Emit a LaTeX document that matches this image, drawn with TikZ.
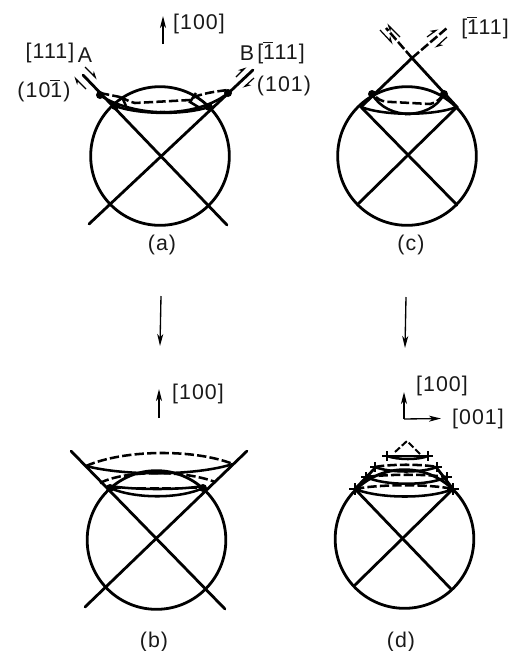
\documentclass[tikz,border=0pt]{standalone}
\usepackage{fontspec}
\setmainfont{Liberation Sans}[LetterSpace=5]
\usetikzlibrary{arrows.meta}
\newcommand{\obar}[1]{\leavevmode\rlap{\raisebox{12.6pt}{\rule{7.5pt}{0.8pt}}}#1}
\tikzset{
  heavy/.style={line width=2.1pt,line cap=round},
  arcline/.style={line width=1.9pt},
  dashline/.style={line width=1.9pt,dash pattern=on 7pt off 2.4pt},
  thin arrow/.style={line width=1pt,-{Stealth[length=9pt,width=4.5pt,inset=2.5pt]}},
  harp a/.style={line width=0.9pt,-{Stealth[harpoon,length=5pt,width=5pt]}},
  lab/.style={inner sep=0pt,font=\fontsize{16}{18}\selectfont,text=black!90},
  tick/.style={line width=1pt}
}
\begin{document}
\begin{tikzpicture}[x=0.75pt,y=-0.75pt]
\useasboundingbox (0,0) rectangle (510,651);
\fill[white] (0,0) rectangle (510,651);
% ---------- panel a
\draw[heavy] (160,156) circle (52pt);
\draw[heavy] (83,75) -- (227,225);
\draw[heavy] (253,70) -- (89,224);
\draw[arcline] (115,106) .. controls (140,115) and (185,115) .. (209,107);
\draw[arcline] (100,95) .. controls (118,108) and (150,113) .. (165,112);
\draw[arcline] (228,93) .. controls (210,108) and (180,113) .. (160,112);
\draw[dashline] (100,93) -- (120,97);
\draw[dashline] (120,97) .. controls (125,99) and (130,102) .. (135,103) -- (190,100) .. controls (195,95) and (210,92) .. (228,90);
\draw[arcline] (122,97) -- (126,106);
\draw[arcline] (196,93) -- (190,102) -- (200,108);
\foreach \p in {(100,95),(228,93),(115,106),(209,107)} \fill \p circle (3pt);
\draw[harp a] (85,67) -- (97,79);
\draw[harp a] (86,89) -- (74,77);
\draw[harp a] (236,77) -- (246,67);
\draw[harp a] (254,78) -- (243,88);
\node[lab] (t1) at (50,53) {[111]};
\node[lab] (t2) at (85,55) {A};
\node[lab] (t3) at (44,91) {(10\obar{1})};
\node[lab] (t4) at (247,53) {B};
\node[lab] (t5) at (281,53) {[\obar{1}11]};
\node[lab] (t6) at (284,86) {(101)};
\node[lab] (t7) at (199,24) {[100]};
\draw[thin arrow] (163,44) -- (163,16);
\node[lab] (ca) at (162,245) {(a)};
\draw[thin arrow] (161,296) -- (160,346);
% ---------- panel b
\draw[heavy] (156.5,540) circle (52pt);
\draw[heavy] (71,451) -- (225,609);
\draw[heavy] (247,451) -- (85,607);
\draw[arcline] (86,466) .. controls (125,476) and (195,476) .. (233,464);
\draw[dashline] (86,466) .. controls (125,449) and (195,449) .. (233,464);
\draw[arcline] (110,488) .. controls (135,499) and (180,499) .. (203,488);
\draw[arcline] (110,486) .. controls (135,490) and (180,490) .. (203,486);
\draw[dashline] (100,483) .. controls (125,470) and (185,470) .. (215,482);
\draw[dashline] (112,488) -- (202,488);
\foreach \p in {(110,488),(203,488)} \fill \p circle (3pt);
\node[lab] (t8) at (198,394) {[100]};
\draw[thin arrow] (159,418) -- (159,389);
\node[lab] (cb) at (154,642) {(b)};
% ---------- panel c
\draw[heavy] (407,156) circle (52pt);
\draw[heavy] (412,58) -- (361,107) -- (457,205);
\draw[heavy] (412,58) -- (457,107) -- (358,204);
\draw[arcline] (361,107) .. controls (385,116) and (432,116) .. (457,107);
\draw[arcline] (372,94) .. controls (380,108) and (395,114) .. (410,114);
\draw[arcline] (444,94) .. controls (437,108) and (422,114) .. (405,114);
\draw[dashline] (376,97) .. controls (380,101) and (385,102) .. (392,102) -- (430,104) .. controls (436,103) and (440,99) .. (444,94);
\foreach \p in {(372,94),(444,94)} \fill \p circle (3pt);
\draw[line width=1.9pt,dash pattern=on 7pt off 2pt] (412,58) -- (386,28);
\draw[line width=1.9pt,dash pattern=on 7pt off 2pt] (412,58) -- (447,28);
\draw[harp a] (380,30) -- (393,44);
\draw[harp a] (400,37) -- (387,24);
\draw[harp a] (427,37) -- (438,29);
\draw[harp a] (447,37) -- (435,48);
\node[lab] (t9) at (485,28) {[\obar{1}11]};
\node[lab] (cc) at (411,245) {(c)};
\draw[thin arrow] (406,297) -- (405,348);
% ---------- panel d
\draw[heavy] (404.5,539) circle (52pt);
\draw[heavy] (355,489) -- (451,589);
\draw[heavy] (453,489) -- (355,585);
\draw[heavy] (355,489) -- (376,467);
\draw[heavy] (453,489) -- (436,467);
\draw[line width=1.5pt,dash pattern=on 5pt off 2pt] (395,452) -- (407,441) -- (420,454);
\draw[arcline] (355,489) .. controls (380,499) and (430,499) .. (453,489);
\draw[dashline] (355,489) .. controls (380,484) and (430,484) .. (453,489);
\draw[arcline] (366,477) .. controls (385,486) and (428,486) .. (447,477);
\draw[dashline] (366,477) .. controls (390,474) and (425,474) .. (447,477);
\draw[arcline] (375,467) .. controls (390,473) and (422,473) .. (437,467);
\draw[dashline] (375,467) .. controls (390,464) and (422,464) .. (437,467);
\draw[arcline] (387,456) .. controls (398,460) and (418,460) .. (428,456);
\draw[arcline] (387,456) -- (428,456);
\draw[tick] (349,489) -- (361,489) (355,483) -- (355,495);
\draw[tick] (447,489) -- (459,489) (453,483) -- (453,495);
\foreach \x/\y in {366/477,447/477,375/467,437/467,387/456,428/456}{
  \draw[tick] (\x-5,\y) -- (\x+5,\y) (\x,\y-5) -- (\x,\y+5);
}
\node[lab] (t10) at (442,386) {[100]};
\node[lab] (t11) at (478,419) {[001]};
\coordinate (dc) at (404,419);
\draw[thin arrow] (dc) -- (404,392);
\draw[thin arrow] (dc) -- (441,418.5);
\node[lab] (cd) at (401,642) {(d)};
\end{tikzpicture}
\end{document}
